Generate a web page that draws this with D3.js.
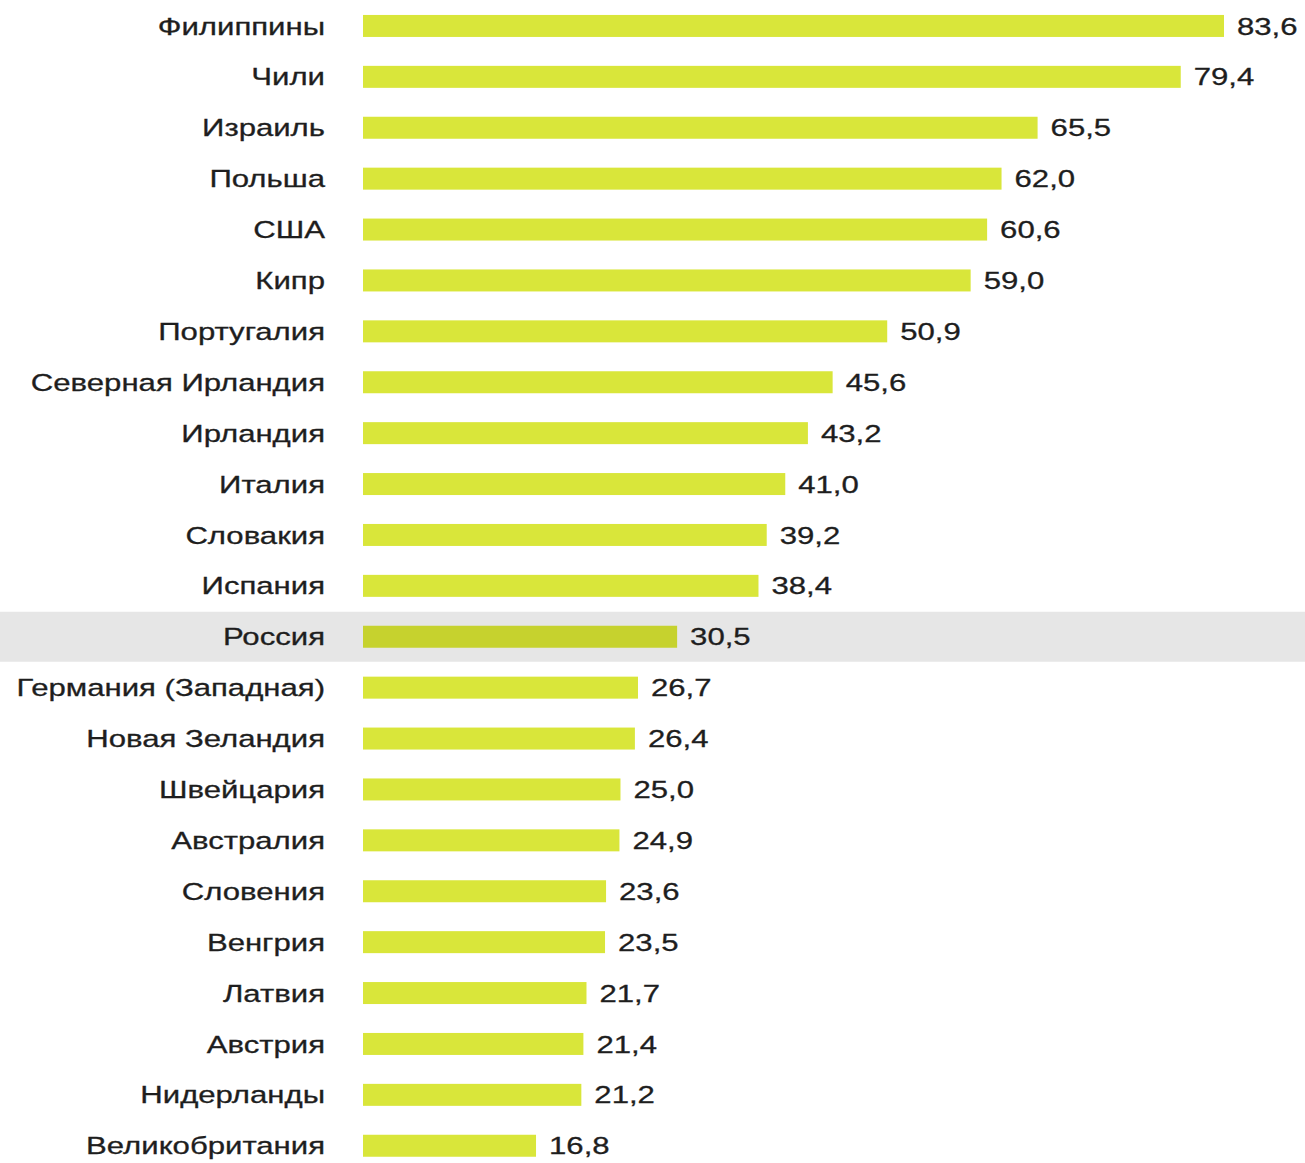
<!DOCTYPE html>
<html>
<head>
<meta charset="utf-8">
<script src="https://cdn.jsdelivr.net/npm/d3@7"></script>
<style>
  html, body { margin: 0; padding: 0; background: #ffffff; }
  svg { display: block; }
</style>
</head>
<body>
<svg id="chart" width="1305" height="1163"></svg>
<script>
const countries = ["Филиппины","Чили","Израиль","Польша","США","Кипр","Португалия","Северная Ирландия","Ирландия","Италия","Словакия","Испания","Россия","Германия (Западная)","Новая Зеландия","Швейцария","Австралия","Словения","Венгрия","Латвия","Австрия","Нидерланды","Великобритания"];
const values = [83.6,79.4,65.5,62.0,60.6,59.0,50.9,45.6,43.2,41.0,39.2,38.4,30.5,26.7,26.4,25.0,24.9,23.6,23.5,21.7,21.4,21.2,16.8];
const highlighted = ["Россия"];

const data = countries.map((c, i) => ({ country: c, value: values[i] }));
const svg = d3.select("#chart");
const W = 1305;
const SX = 1.27;

const x = d3.scaleLinear().domain([0, 83.6]).range([363, 1224]);
const y = d3.scaleBand().domain(countries).range([0.5, 1171.2]).paddingInner(0.568).paddingOuter(0.284);
const fmt = v => d3.format(".1f")(v).replace(".", ",");
const cy = d => y(d.country) + y.bandwidth() / 2;

// highlight band
svg.selectAll("rect.hl").data(data.filter(d => highlighted.includes(d.country)))
  .join("rect").attr("class", "hl")
  .attr("x", 0).attr("width", W)
  .attr("y", d => cy(d) - 25)
  .attr("height", 50)
  .attr("fill", "#e6e6e6");

svg.selectAll("rect.bar").data(data).join("rect").attr("class", "bar")
  .attr("x", x(0))
  .attr("y", d => y(d.country))
  .attr("width", d => x(d.value) - x(0))
  .attr("height", y.bandwidth())
  .attr("fill", d => highlighted.includes(d.country) ? "#c6d22e" : "#d9e63a");

function styleText(sel) {
  sel.attr("dy", "0.35em")
    .attr("font-family", "'Liberation Sans', Arial, Helvetica, sans-serif")
    .attr("font-size", 24.5)
    .attr("fill", "#1e1e1e")
    .attr("stroke", "#1e1e1e")
    .attr("stroke-width", 0.3);
}

svg.selectAll("text.lab").data(data).join("text").attr("class", "lab")
  .attr("transform", d => `translate(325,${cy(d)}) scale(${SX},1)`)
  .attr("text-anchor", "end")
  .call(styleText)
  .text(d => d.country);

svg.selectAll("text.val").data(data).join("text").attr("class", "val")
  .attr("transform", d => `translate(${x(d.value) + 13},${cy(d)}) scale(${SX},1)`)
  .attr("text-anchor", "start")
  .call(styleText)
  .text(d => fmt(d.value));
</script>
</body>
</html>
